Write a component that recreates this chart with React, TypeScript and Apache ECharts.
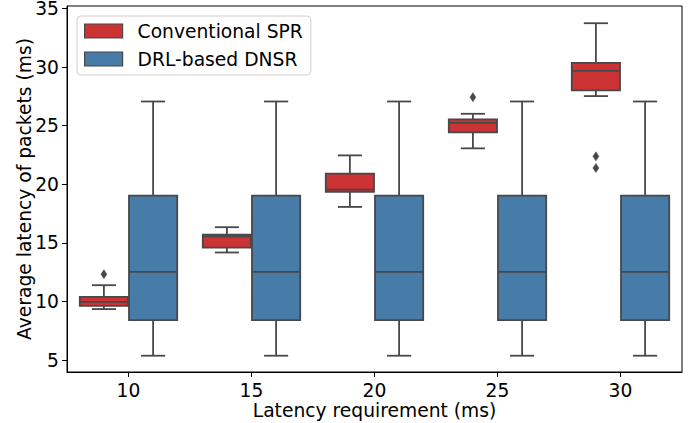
import React, { useEffect, useRef } from 'react';
import * as echarts from 'echarts';

const categories = ['10', '15', '20', '25', '30'];
const seriesNames = ['Conventional SPR', 'DRL-based DNSR'];
// each row: [min, q1, median, q3, max]
const conventionalStats = [
  [9.35, 9.63, 9.97, 10.4, 11.39],
  [14.18, 14.6, 15.55, 15.71, 16.34],
  [18.07, 19.35, 19.54, 20.91, 22.47],
  [23.07, 24.43, 25.25, 25.54, 26.02],
  [27.53, 28.01, 29.69, 30.37, 33.75],
];
const drlStats = [
  [5.37, 8.41, 12.53, 19.04, 27.07],
  [5.37, 8.41, 12.53, 19.04, 27.07],
  [5.37, 8.41, 12.53, 19.04, 27.07],
  [5.37, 8.41, 12.53, 19.04, 27.07],
  [5.37, 8.41, 12.53, 19.04, 27.07],
];
// [category index, value]
const conventionalOutliers = [
  [0, 12.33],
  [3, 27.44],
  [4, 22.39],
  [4, 21.39],
];
const yTicks = [5, 10, 15, 20, 25, 30, 35];

const RED = '#cb3335';
const BLUE = '#477ca8';
const GRAY = '#484848';
const FONT = 'DejaVu Sans';
const FS = 18.7;

function boxRender(offset: number, color: string) {
  return (params: any, api: any) => {
    const idx = api.value(0);
    const band = api.size([1, 0])[0];
    const cx = api.coord([idx, 0])[0] + offset * band;
    const w = band * 0.392;
    const cap = w / 2;
    const y = (d: number) => api.coord([idx, api.value(d)])[1];
    const yMin = y(1), yQ1 = y(2), yMed = y(3), yQ3 = y(4), yMax = y(5);
    const ls = { stroke: GRAY, lineWidth: 1.8 };
    return {
      type: 'group',
      children: [
        { type: 'line', shape: { x1: cx, y1: yMin, x2: cx, y2: yQ1 }, style: ls },
        { type: 'line', shape: { x1: cx, y1: yQ3, x2: cx, y2: yMax }, style: ls },
        { type: 'line', shape: { x1: cx - cap / 2, y1: yMin, x2: cx + cap / 2, y2: yMin }, style: ls },
        { type: 'line', shape: { x1: cx - cap / 2, y1: yMax, x2: cx + cap / 2, y2: yMax }, style: ls },
        {
          type: 'rect',
          shape: { x: cx - w / 2, y: yQ3, width: w, height: yQ1 - yQ3 },
          style: { fill: color, stroke: GRAY, lineWidth: 1.8 },
        },
        { type: 'line', shape: { x1: cx - w / 2, y1: yMed, x2: cx + w / 2, y2: yMed }, style: ls },
      ],
    };
  };
}

function outlierRender(offset: number) {
  return (params: any, api: any) => {
    const idx = api.value(0);
    const band = api.size([1, 0])[0];
    const [px, py] = api.coord([idx, api.value(1)]);
    const cx = px + offset * band;
    return {
      type: 'polygon',
      shape: {
        points: [
          [cx, py - 4.5],
          [cx + 3, py],
          [cx, py + 4.5],
          [cx - 3, py],
        ],
      },
      style: { fill: GRAY, stroke: GRAY, lineWidth: 0.5 },
    };
  };
}

export default function App() {
  const ref = useRef<HTMLDivElement>(null);
  useEffect(() => {
    if (!ref.current) return;
    const chart = echarts.init(ref.current, undefined, { renderer: 'svg' });
    const convData = conventionalStats.map((s, i) => [i, ...s]);
    const drlData = drlStats.map((s, i) => [i, ...s]);
    chart.setOption({
      animation: false,
      textStyle: { fontFamily: FONT },
      grid: {
        left: 67,
        right: 18,
        top: 6,
        bottom: 51,
        containLabel: false,
        outerBoundsMode: 'none',
        show: true,
        borderColor: '#000',
        borderWidth: 1,
        backgroundColor: 'transparent',
      },
      legend: {
        left: 77,
        top: 16,
        orient: 'vertical',
        itemWidth: 38,
        itemHeight: 14,
        itemGap: 8,
        padding: [5, 8, 6, 7],
        backgroundColor: 'rgba(255,255,255,0.8)',
        borderColor: '#d0d0d0',
        borderWidth: 1,
        borderRadius: 4,
        textStyle: {
          fontFamily: FONT,
          fontSize: FS,
          color: '#000',
          lineHeight: 20,
          padding: [0, 0, 0, 10],
        },
        data: [
          { name: seriesNames[0], icon: 'rect', itemStyle: { color: RED, borderColor: GRAY, borderWidth: 1.2 } },
          { name: seriesNames[1], icon: 'rect', itemStyle: { color: BLUE, borderColor: GRAY, borderWidth: 1.2 } },
        ],
      },
      xAxis: {
        type: 'category',
        data: categories,
        boundaryGap: true,
        name: 'Latency requirement (ms)',
        nameLocation: 'middle',
        nameGap: 28,
        nameMoveOverlap: false,
        nameTextStyle: { fontFamily: FONT, fontSize: FS, color: '#000', lineHeight: 20 },
        axisLine: { show: true, lineStyle: { color: '#000', width: 1 } },
        axisTick: { show: true, alignWithLabel: true, length: 5, lineStyle: { color: '#000', width: 1 } },
        axisLabel: { fontFamily: FONT, fontSize: FS, color: '#000', margin: 10, lineHeight: 16 },
        splitLine: { show: false },
      },
      yAxis: {
        type: 'value',
        min: 3.98,
        max: 35.22,
        name: 'Average latency of packets (ms)',
        nameLocation: 'middle',
        nameGap: 33,
        nameMoveOverlap: false,
        nameTextStyle: { fontFamily: FONT, fontSize: FS, color: '#000', lineHeight: 20 },
        axisLine: { show: true, lineStyle: { color: '#000', width: 1 } },
        axisTick: { show: true, length: 5, customValues: yTicks, lineStyle: { color: '#000', width: 1 } },
        axisLabel: { fontFamily: FONT, fontSize: FS, color: '#000', margin: 8, lineHeight: 16, customValues: yTicks },
        splitLine: { show: false },
      },
      series: [
        {
          name: seriesNames[0],
          type: 'custom',
          renderItem: boxRender(-0.2, RED),
          itemStyle: { color: RED },
          encode: { x: 0, y: [1, 2, 3, 4, 5] },
          data: convData,
        },
        {
          name: seriesNames[1],
          type: 'custom',
          renderItem: boxRender(0.2, BLUE),
          itemStyle: { color: BLUE },
          encode: { x: 0, y: [1, 2, 3, 4, 5] },
          data: drlData,
        },
        {
          name: 'Conventional SPR outliers',
          type: 'custom',
          renderItem: outlierRender(-0.2),
          encode: { x: 0, y: 1 },
          data: conventionalOutliers,
        },
      ],
    });
    return () => chart.dispose();
  }, []);
  return <div ref={ref} style={{ width: 700, height: 423, position: 'absolute', left: 0, top: 0 }} />;
}
